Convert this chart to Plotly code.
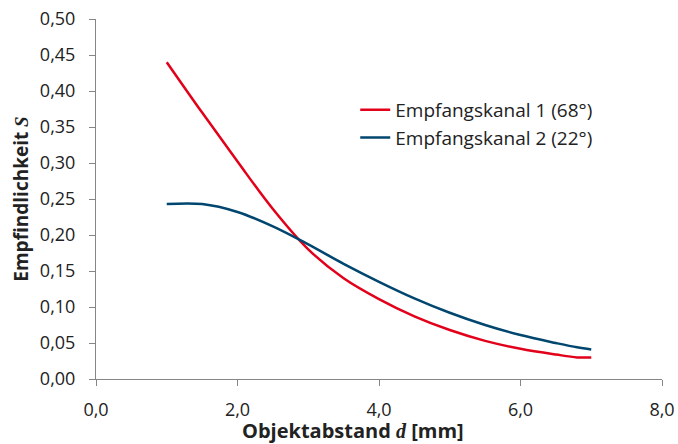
import plotly.graph_objects as go

d_values = [1.0, 1.5, 2.0, 2.5, 3.0, 3.5, 4.0, 4.5, 5.0, 5.5, 6.0, 6.5, 6.8, 7.0]
kanal1 = [0.440, 0.370, 0.302, 0.236, 0.180, 0.140, 0.111, 0.087, 0.068, 0.053, 0.042, 0.034, 0.030, 0.030]
kanal2 = [0.243, 0.243, 0.232, 0.212, 0.187, 0.160, 0.135, 0.112, 0.092, 0.075, 0.061, 0.050, 0.044, 0.041]

x_ticks = [0, 2, 4, 6, 8]
x_ticklabels = ["0,0", "2,0", "4,0", "6,0", "8,0"]
y_ticks = [0.0, 0.05, 0.10, 0.15, 0.20, 0.25, 0.30, 0.35, 0.40, 0.45, 0.50]
y_ticklabels = ["0,00", "0,05", "0,10", "0,15", "0,20", "0,25", "0,30", "0,35", "0,40", "0,45", "0,50"]

FONT = "'Open Sans', sans-serif"
SERIF = "'Liberation Serif', serif"

fig = go.Figure()
fig.add_trace(go.Scatter(x=d_values, y=kanal1, mode="lines", name="Empfangskanal 1 (68°)",
                         line=dict(color="#E2001A", width=2.5, shape="spline")))
fig.add_trace(go.Scatter(x=d_values, y=kanal2, mode="lines", name="Empfangskanal 2 (22°)",
                         line=dict(color="#00466E", width=2.5, shape="spline")))

axis_common = dict(showgrid=False, zeroline=False, showline=True, linecolor="#868686", linewidth=1,
                   ticks="outside", ticklen=6, tickcolor="#868686", automargin=False,
                   tickfont=dict(family=FONT, size=18, color="#222"))

fig.update_layout(
    width=678, height=444,
    margin=dict(l=96, r=16, t=19, b=65),
    paper_bgcolor="white", plot_bgcolor="white",
    showlegend=True,
    legend=dict(x=0.458, y=0.80, xanchor="left", yanchor="top", bgcolor="rgba(0,0,0,0)",
                font=dict(family=FONT, size=19, color="#222"), itemwidth=30, tracegroupgap=0),
    xaxis=dict(range=[0, 8], tickvals=x_ticks, ticktext=x_ticklabels, ticklabelstandoff=8,
               **axis_common),
    yaxis=dict(range=[0, 0.5], tickvals=y_ticks, ticktext=y_ticklabels, ticklabelstandoff=10,
               title=dict(text=f"<b>Empfindlichkeit <i><span style=\"font-family:{SERIF}\">S</span></i></b>",
                          font=dict(family=FONT, size=19, color="#222"), standoff=6),
               **axis_common),
    annotations=[dict(text=f"<b>Objektabstand <i><span style=\"font-family:{SERIF}\">d</span></i> [mm]</b>",
                      xref="paper", yref="paper", x=0.454, y=-0.143, xanchor="center", yanchor="middle",
                      showarrow=False, font=dict(family=FONT, size=20, color="#222"))],
)

fig.write_html("out.html", config={"displayModeBar": False},
               post_script="document.body.style.margin='0';")
